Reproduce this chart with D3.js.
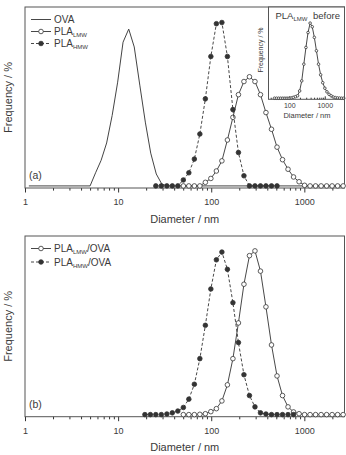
<!DOCTYPE html>
<html>
<head>
<meta charset="utf-8">
<script src="https://cdn.jsdelivr.net/npm/d3@7"></script>
<style>
  body { margin: 0; background: #fff; }
  svg text { font-family: "Liberation Sans", Arial, sans-serif; fill: #3a3a3a; }
</style>
</head>
<body>
<div id="chart"></div>
<script>
// ---- data ----
const majorTicks = [1, 10, 100, 1000];
const insetTicks = [100, 1000];

// panel (a)
const ovaDiam = [1.1, 5.0, 5.73, 6.57, 7.53, 8.63, 9.89, 11.3, 13.0, 14.9, 17.1, 19.6, 22.4, 25.7, 29.5, 33.8, 2650];
const ovaFreq = [0, 0, 2.2, 4.3, 7.2, 11.8, 17.4, 24.1, 26.3, 23.3, 16.9, 10.7, 5.5, 2.0, 0.3, 0, 0];

const hmwDiamA = [25.4, 29.1, 33.4, 38.2, 43.8, 50.2, 57.5, 65.9, 75.5, 86.5, 99.1, 113.6, 130.2, 149.2, 171, 196, 224.6, 257.4, 295, 338, 387, 444, 509];
const hmwFreqA = [0, 0, 0, 0, 0, 1.0, 2.2, 4.5, 8.7, 14.6, 21.7, 27.2, 27.4, 21.7, 12.8, 5.6, 1.7, 0, 0, 0, 0, 0, 0];

const lmwDiamA = [50.2, 57.5, 65.9, 75.5, 86.5, 99.1, 113.6, 130.2, 149.2, 171, 196, 224.6, 257.4, 295, 338, 387, 444, 509, 583, 668, 766, 878, 1006, 1153, 1321, 1514, 1735, 1988, 2278, 2611];
const lmwFreqA = [0, 0, 0, 0, 0.6, 1.25, 2.5, 4.2, 7.7, 11.5, 15.3, 17.5, 18.3, 17.5, 15.3, 12.3, 9.5, 6.5, 4.4, 2.8, 1.5, 0.7, 0.1, 0, 0, 0, 0, 0, 0, 0];

// inset: PLA_LMW before
const insetDiam = [38.2, 43.8, 50.2, 57.5, 65.9, 75.5, 86.5, 99.1, 113.6, 130.2, 149.2, 171, 196, 224.6, 257.4, 295, 338, 387, 444, 509, 583, 668, 766, 878, 1006, 1153, 1321, 1514, 1735, 1988, 2278, 2611, 2992, 3428];
const insetFreq = [0, 0, 0, 0, 0, 0, 0, 0, 0.1, 0.3, 0.5, 0.8, 2.4, 5.7, 11.2, 16.7, 21.6, 24.7, 23.5, 20, 15.6, 11.2, 7.7, 5.1, 3.3, 2.1, 1.3, 0.8, 0.4, 0.2, 0.1, 0.05, 0, 0];

// panel (b)
const hmwDiamB = [19.4, 22.2, 25.4, 29.1, 33.4, 38.2, 43.8, 50.2, 57.5, 65.9, 75.5, 86.5, 99.1, 113.6, 130.2, 149.2, 171, 196, 224.6, 257.4, 295, 338, 387, 444, 509, 583, 668, 766];
const hmwFreqB = [0, 0, 0, 0, 0.1, 0.3, 0.6, 1.2, 2.6, 5.1, 9.4, 15.0, 21.1, 26.0, 27.3, 24.4, 18.8, 12.1, 6.7, 3.2, 1.3, 0.3, 0.1, 0, 0, 0, 0, 0];

const lmwDiamB = [50.2, 57.5, 65.9, 75.5, 86.5, 99.1, 113.6, 130.2, 149.2, 171, 196, 224.6, 257.4, 295, 338, 387, 444, 509, 583, 668, 766, 878, 1006, 1153, 1321, 1514, 1735, 1988, 2278, 2611];
const lmwFreqB = [0, 0, 0, 0.05, 0.15, 0.5, 1.0, 2.3, 5.0, 9.4, 15.4, 21.9, 26.7, 27.5, 24.1, 18.1, 11.7, 6.5, 3.2, 1.3, 0.45, 0.15, 0, 0, 0, 0, 0, 0, 0, 0];

// ---- layout ----
const W = 346, H = 455;
const ink = '#333';
const xDomain = [1, 2700];
const yDomain = [-0.35, 30];
const left = 25, right = 344.5;

const svg = d3.select('#chart').append('svg')
    .attr('width', W)
    .attr('height', H);

const x = d3.scaleLog().domain(xDomain).range([left, right]);

// minor ticks 2..9 per decade
let minorTicks = [];
for (let d = 1; d <= 1000; d *= 10) {
    for (let k = 2; k <= 9; k++) {
        if (k * d <= xDomain[1]) minorTicks.push(k * d);
    }
}

function zip(ds, fs) {
    return ds.map((d, i) => ({ d: d, f: fs[i] }));
}

function series(g, xs, ys, data, opts) {
    let line = d3.line().x(p => xs(p.d)).y(p => ys(p.f));
    g.append('path')
        .datum(data)
        .attr('d', line)
        .attr('fill', 'none')
        .attr('stroke', opts.color || ink)
        .attr('stroke-width', opts.width || 0.9)
        .attr('stroke-dasharray', opts.dash || null);
    if (opts.marker) {
        g.selectAll(null)
            .data(data)
            .enter().append('circle')
            .attr('cx', p => xs(p.d))
            .attr('cy', p => ys(p.f))
            .attr('r', opts.r || 2.3)
            .attr('fill', opts.marker === 'open' ? '#fff' : ink)
            .attr('stroke', ink)
            .attr('stroke-width', 0.8);
    }
}

function labelSub(t, main, sub, tail) {
    t.append('tspan').text(main);
    t.append('tspan').attr('font-size', 6).attr('dy', 2).text(sub);
    if (tail) t.append('tspan').attr('dy', -2).text(tail);
}

function legendRow(g, y, opts, main, sub, tail) {
    g.append('line')
        .attr('x1', 31).attr('x2', 51).attr('y1', y).attr('y2', y)
        .attr('stroke', ink).attr('stroke-width', 0.9)
        .attr('stroke-dasharray', opts.dash || null);
    if (opts.marker) {
        g.append('circle')
            .attr('cx', 41).attr('cy', y).attr('r', 2.3)
            .attr('fill', opts.marker === 'open' ? '#fff' : ink)
            .attr('stroke', ink).attr('stroke-width', 0.8);
    }
    let t = g.append('text')
        .attr('x', 54).attr('y', y + 3.5)
        .attr('font-size', 10);
    labelSub(t, main, sub, tail);
}

function panel(top, bottom, tag) {
    let g = svg.append('g');
    let y = d3.scaleLinear().domain(yDomain).range([bottom, top]);

    // major ticks with labels
    g.append('g')
        .attr('transform', `translate(0,${bottom})`)
        .call(d3.axisBottom(x).tickValues(majorTicks).tickFormat(d3.format('d')).tickSize(4.5).tickPadding(6))
        .call(a => a.select('.domain').remove())
        .call(a => a.selectAll('line').attr('stroke', ink))
        .call(a => a.selectAll('text').attr('font-size', 9).attr('fill', '#3a3a3a')
            .attr('font-family', '"Liberation Sans", Arial, sans-serif'));

    // minor ticks
    g.append('g')
        .attr('transform', `translate(0,${bottom})`)
        .call(d3.axisBottom(x).tickValues(minorTicks).tickFormat('').tickSize(2.6))
        .call(a => a.select('.domain').remove())
        .call(a => a.selectAll('line').attr('stroke', ink));

    g.append('rect')
        .attr('x', left).attr('y', top)
        .attr('width', right - left).attr('height', bottom - top)
        .attr('fill', 'none').attr('stroke', '#555').attr('stroke-width', 1);

    g.append('text')
        .attr('x', (left + right) / 2).attr('y', bottom + 34.5)
        .attr('text-anchor', 'middle').attr('font-size', 11)
        .text('Diameter / nm');

    g.append('text')
        .attr('transform', `translate(12,${(top + bottom) / 2}) rotate(-90)`)
        .attr('text-anchor', 'middle').attr('font-size', 11)
        .text('Frequency / %');

    g.append('text')
        .attr('x', 29).attr('y', bottom - 9)
        .attr('font-size', 10.5)
        .text(tag);

    return { g: g, y: y };
}

// ---- panel (a) ----
let pa = panel(7, 188, '(a)');
series(pa.g, x, pa.y, zip(ovaDiam, ovaFreq), { color: '#444', width: 1 });
series(pa.g, x, pa.y, zip(lmwDiamA, lmwFreqA), { marker: 'open' });
series(pa.g, x, pa.y, zip(hmwDiamA, hmwFreqA), { marker: 'filled', dash: '3,2' });

let legA = svg.append('g');
legendRow(legA, 19.5, {}, 'OVA', '', '');
legendRow(legA, 31.5, { marker: 'open' }, 'PLA', 'LMW', '');
legendRow(legA, 43.5, { marker: 'filled', dash: '3,2' }, 'PLA', 'HMW', '');

// ---- inset ----
const inL = 268.5, inR = 344.5, inT = 7, inB = 99.3;
let xi = d3.scaleLog().domain([26, 3600]).range([inL, inR]);
let yi = d3.scaleLinear().domain(yDomain).range([inB, inT]);
let inset = svg.append('g');

inset.append('rect')
    .attr('x', inL).attr('y', inT)
    .attr('width', inR - inL).attr('height', inB - inT)
    .attr('fill', '#fff');

let insetMinor = minorTicks.filter(v => v >= 30 && v <= 3000);
inset.append('g')
    .attr('transform', `translate(0,${inB})`)
    .call(d3.axisBottom(xi).tickValues(insetMinor).tickFormat('').tickSize(-1.6))
    .call(a => a.select('.domain').remove())
    .call(a => a.selectAll('line').attr('stroke', ink));
inset.append('g')
    .attr('transform', `translate(0,${inB})`)
    .call(d3.axisBottom(xi).tickValues(insetTicks).tickFormat(d3.format('d')).tickSize(-3).tickPadding(4))
    .call(a => a.select('.domain').remove())
    .call(a => a.selectAll('line').attr('stroke', ink))
    .call(a => a.selectAll('text').attr('font-size', 7).attr('fill', '#3a3a3a')
        .attr('font-family', '"Liberation Sans", Arial, sans-serif'));

series(inset, xi, yi, zip(insetDiam, insetFreq), { marker: 'open', r: 1.3, width: 0.9 });

inset.append('rect')
    .attr('x', inL).attr('y', inT)
    .attr('width', inR - inL).attr('height', inB - inT)
    .attr('fill', 'none').attr('stroke', '#555').attr('stroke-width', 1);

let it = inset.append('text').attr('x', 275.5).attr('y', 18.5).attr('font-size', 9.5);
labelSub(it, 'PLA', 'LMW', '');
inset.append('text').attr('x', 313).attr('y', 18.5).attr('font-size', 9.5).text('before');

inset.append('text')
    .attr('x', (inL + inR) / 2 + 0.5).attr('y', 118)
    .attr('text-anchor', 'middle').attr('font-size', 7.5)
    .text('Diameter / nm');
inset.append('text')
    .attr('transform', `translate(263,50) rotate(-90)`)
    .attr('text-anchor', 'middle').attr('font-size', 7)
    .text('Frequency / %');

// ---- panel (b) ----
let pb = panel(236, 416.7, '(b)');
series(pb.g, x, pb.y, zip(lmwDiamB, lmwFreqB), { marker: 'open' });
series(pb.g, x, pb.y, zip(hmwDiamB, hmwFreqB), { marker: 'filled', dash: '3,2' });

let legB = svg.append('g');
legendRow(legB, 248.5, { marker: 'open' }, 'PLA', 'LMW', '/OVA');
legendRow(legB, 262, { marker: 'filled', dash: '3,2' }, 'PLA', 'HMW', '/OVA');
</script>
</body>
</html>
